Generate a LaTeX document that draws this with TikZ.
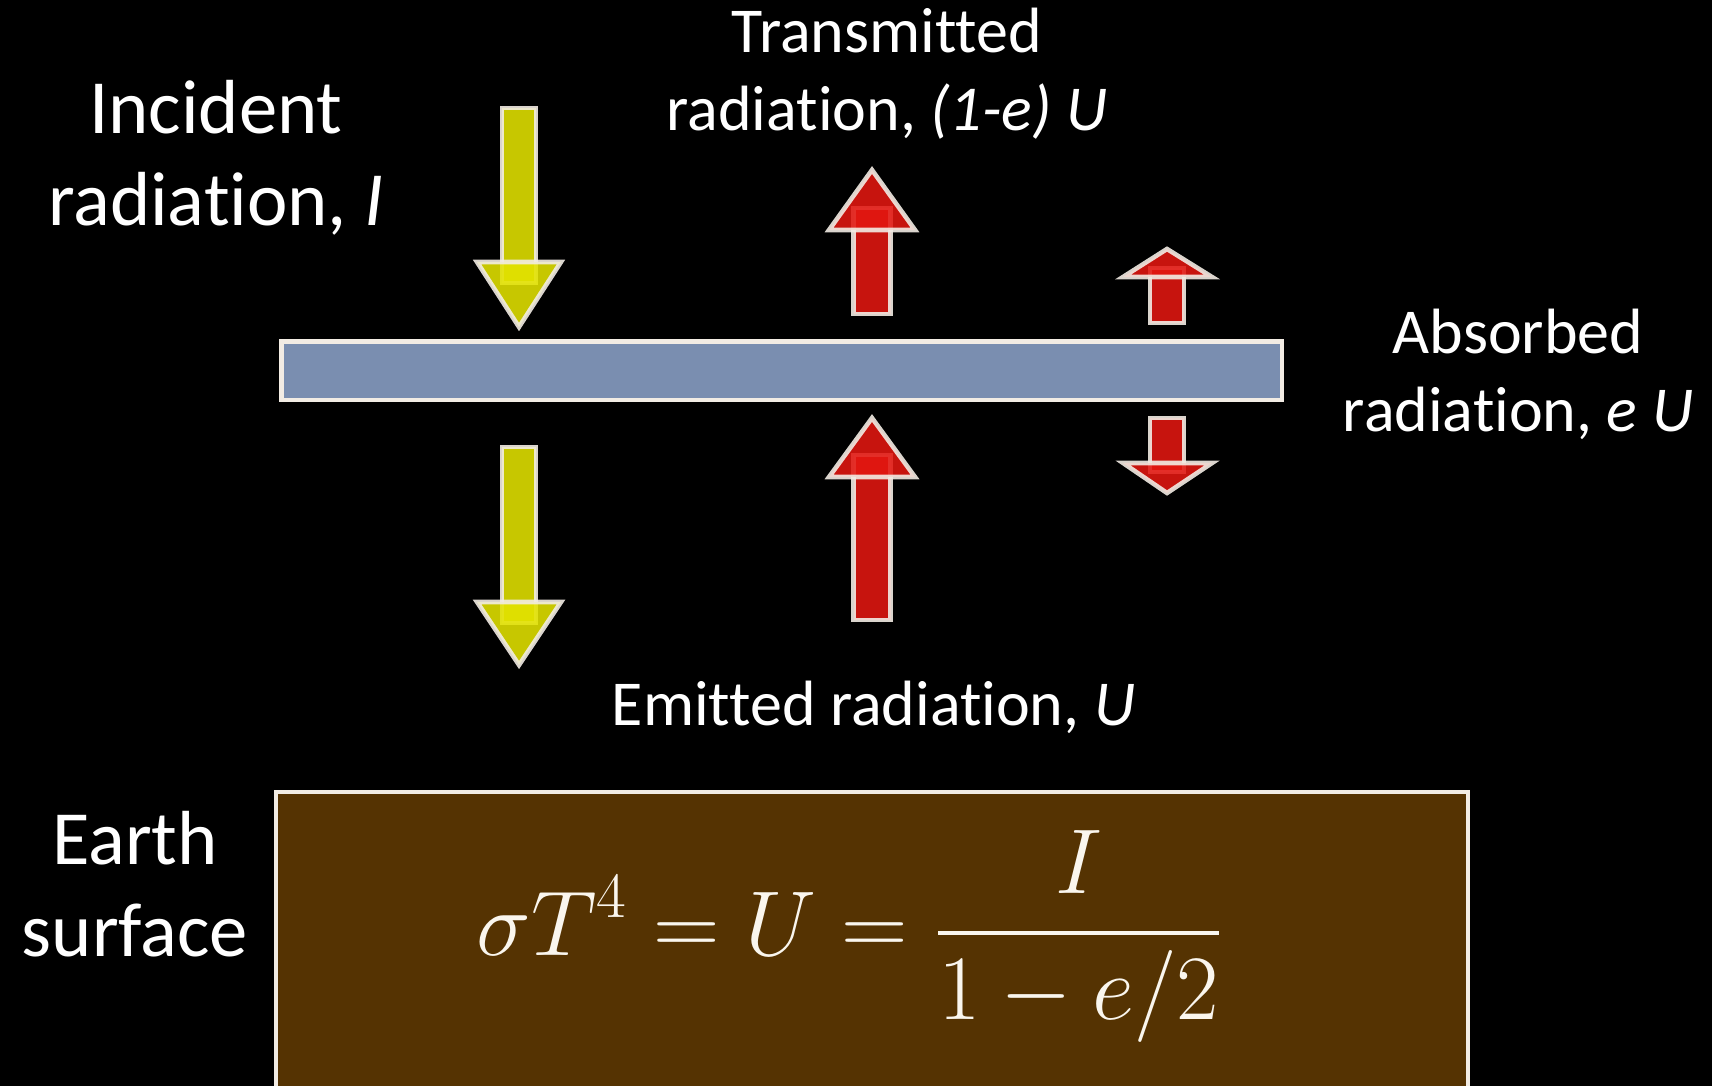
\RequirePackage{fix-cm}
\documentclass[tikz,border=0pt]{standalone}
\usepackage{fontspec}
\setmainfont{Carlito}[Ligatures=NoCommon]
\usepackage{amsmath}
\usepackage{tikz}

\definecolor{sunyellow}{RGB}{227,227,0}
\definecolor{heatred}{RGB}{227,23,17}
\definecolor{rimwhite}{RGB}{242,236,228}
\definecolor{slabblue}{RGB}{122,142,176}
\definecolor{soilbrown}{RGB}{85,51,2}
\definecolor{eqwhite}{RGB}{250,246,238}

\begin{document}
\begin{tikzpicture}[x=0.01cm, y=-0.01cm, every node/.style={text=white}]
  \tikzstyle{bigtext} = [font=\fontsize{21.8}{26.2}\selectfont, align=center, anchor=base]
  \tikzstyle{labeltext} = [font=\fontsize{18.2}{22.2}\selectfont, align=center, anchor=base]
  \tikzstyle{sunray} = [fill=sunyellow, fill opacity=0.88, draw=rimwhite, draw opacity=0.9,
                        line width=1.3pt, line join=miter]
  \tikzstyle{heatray} = [fill=heatred, fill opacity=0.88, draw=rimwhite, draw opacity=0.9,
                         line width=1.3pt, line join=miter]
  \fill[black] (0,0) rectangle (1712,1086);
  \useasboundingbox (0,0) rectangle (1712,1086);
  % atmosphere layer and ground
  \node (layer) [draw=rimwhite, line width=1.2pt, fill=slabblue, inner sep=0pt,
                 minimum width=10.0cm, minimum height=0.585cm] at (781.75,370.75) {};
  \node (ground) [draw=rimwhite, line width=1.2pt, fill=soilbrown, inner sep=0pt,
                  minimum width=11.92cm, minimum height=3.075cm] at (872,946) {};
  \node (balance) [anchor=base, text=eqwhite, font=\fontsize{26.2}{31}\selectfont] at (850,956)
        {$\displaystyle \sigma T^4 = U = \frac{I}{1-e/2}$};
  % incident beam
  \draw[sunray] (502,108) rectangle (536,283);
  \draw[sunray] (477,262) -- (561,262) -- (519,327) -- cycle;
  \draw[sunray] (502,447) rectangle (536,623);
  \draw[sunray] (477,602) -- (561,602) -- (519,665) -- cycle;
  % emitted and transmitted
  \draw[heatray] (853.5,208) rectangle (890.5,314);
  \draw[heatray] (829,230) -- (915,230) -- (872,170) -- cycle;
  \draw[heatray] (853.5,455) rectangle (890.5,620);
  \draw[heatray] (829,477) -- (915,477) -- (872,418) -- cycle;
  % re-emitted by the layer
  \draw[heatray] (1150,268) rectangle (1184,323);
  \draw[heatray] (1123,277) -- (1212,277) -- (1167,249) -- cycle;
  \draw[heatray] (1150,418) rectangle (1184,472);
  \draw[heatray] (1123,463) -- (1212,463) -- (1167,493) -- cycle;
  % labels (base = last line)
  \node (incident) [bigtext] at (216,226) {Incident\\radiation, \textit{I}};
  \node (transmitted) [labeltext] at (887,131) {Transmitted\\radiation, \textit{(1-e) U}};
  \node (absorbed) [labeltext] at (1518,432) {Absorbed\\radiation, \textit{e U}};
  \node (emitted) [labeltext] at (873.5,726) {Emitted radiation, \textit{U}};
  \node (earth) [bigtext] at (135,957) {Earth\\surface};
\end{tikzpicture}
\end{document}
